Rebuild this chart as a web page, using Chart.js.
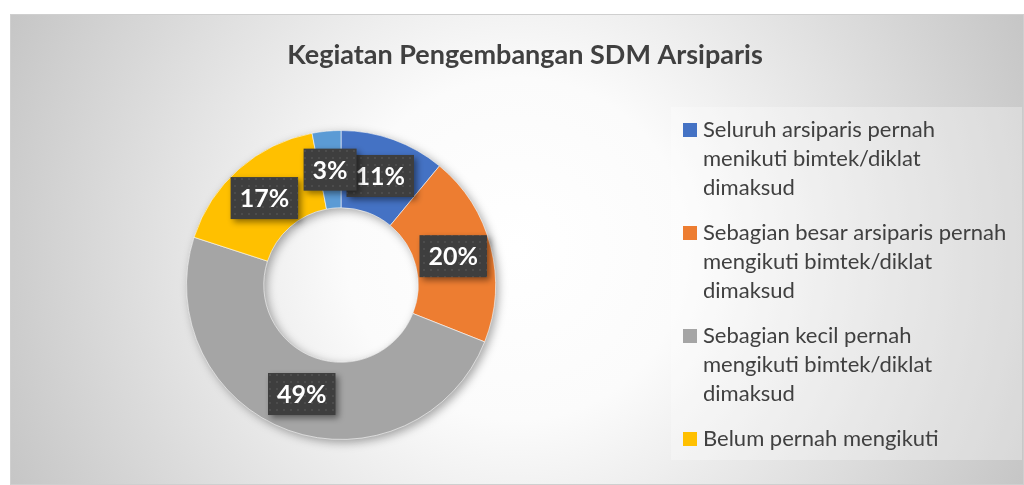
<!DOCTYPE html>
<html>
<head>
<meta charset="utf-8">
<script src="https://cdn.jsdelivr.net/npm/chart.js@4/dist/chart.umd.min.js"></script>
<style>
  html, body { margin: 0; padding: 0; background: #fff; }
</style>
</head>
<body>
<canvas id="chart" width="1024" height="485"></canvas>
<script>
const chartTitle = 'Kegiatan Pengembangan SDM Arsiparis';

// legend text is kept as the wrapped lines shown in the original
const categories = [
    ['Seluruh arsiparis pernah', 'menikuti bimtek/diklat', 'dimaksud'],
    ['Sebagian besar arsiparis pernah', 'mengikuti bimtek/diklat', 'dimaksud'],
    ['Sebagian kecil pernah', 'mengikuti bimtek/diklat', 'dimaksud'],
    ['Belum pernah mengikuti'],
    '', // fifth slice has no legend entry in the original
];
const shares = [11, 20, 49, 17, 3];
const sliceColors = ['#4472C4', '#ED7D31', '#A5A5A5', '#FFC000', '#5B9BD5'];

const FONT = 'Lato, "Open Sans", sans-serif';

function dotPattern(ctx) {
    const c = document.createElement('canvas');
    c.width = 7;
    c.height = 7;
    const p = c.getContext('2d');
    p.fillStyle = '#3e3e3e';
    p.fillRect(0, 0, 7, 7);
    p.fillStyle = '#4c4c4c';
    p.fillRect(3, 3, 2, 2);
    return ctx.createPattern(c, 'repeat');
}

const decor = {
    id: 'decor',
    beforeDraw(chart) {
        const { ctx, width, height } = chart;
        ctx.save();
        ctx.fillStyle = '#fff';
        ctx.fillRect(0, 0, width, height);

        // radial gradient background of the chart frame
        const g = ctx.createRadialGradient(517, 249, 0, 517, 249, 570);
        g.addColorStop(0, '#ffffff');
        g.addColorStop(0.3, '#fbfbfb');
        g.addColorStop(1, '#c4c4c4');
        ctx.fillStyle = g;
        ctx.fillRect(10, 14, width - 10, height - 14);
        ctx.strokeStyle = '#cfcfcf';
        ctx.lineWidth = 1;
        ctx.strokeRect(10.5, 14.5, width - 11, height - 15);

        // title
        ctx.fillStyle = '#404040';
        ctx.font = 'bold 27px ' + FONT;
        ctx.textAlign = 'center';
        ctx.textBaseline = 'middle';
        ctx.fillText(chartTitle, 525, 55);

        // legend
        ctx.fillStyle = 'rgba(255,255,255,0.3)';
        ctx.fillRect(671, 107, 351, 353);
        ctx.font = '22px ' + FONT;
        ctx.textAlign = 'left';
        let y = 130;
        categories.forEach((lines, i) => {
            if (!lines || !lines.length) return;
            ctx.fillStyle = sliceColors[i];
            ctx.fillRect(683, y - 7, 14, 14);
            ctx.fillStyle = '#404040';
            lines.forEach((line, j) => ctx.fillText(line, 703, y + j * 29));
            y += lines.length * 29 + 16;
        });
        ctx.restore();
    },
    beforeDatasetsDraw(chart) {
        // soft shadow under the whole ring
        const { ctx } = chart;
        const arc = chart.getDatasetMeta(0).data[0];
        const { x, y, innerRadius, outerRadius } = arc.getProps(['x', 'y', 'innerRadius', 'outerRadius'], true);
        ctx.save();
        ctx.shadowColor = 'rgba(0,0,0,0.35)';
        ctx.shadowBlur = 10;
        ctx.shadowOffsetX = 3;
        ctx.shadowOffsetY = 3;
        ctx.beginPath();
        ctx.arc(x, y, outerRadius, 0, Math.PI * 2);
        ctx.arc(x, y, innerRadius, 0, Math.PI * 2, true);
        ctx.fillStyle = '#999';
        ctx.fill();
        ctx.restore();
    },
    afterDatasetsDraw(chart) {
        const { ctx } = chart;
        const pattern = dotPattern(ctx);
        const values = chart.data.datasets[0].data;
        ctx.save();
        ctx.font = 'bold 25px ' + FONT;
        ctx.textAlign = 'center';
        ctx.textBaseline = 'middle';
        chart.getDatasetMeta(0).data.forEach((arc, i) => {
            const { x, y } = arc.getCenterPoint();
            const text = values[i] + '%';
            const w = ctx.measureText(text).width + 18;
            const h = 42;
            ctx.save();
            ctx.shadowColor = 'rgba(0,0,0,0.45)';
            ctx.shadowBlur = 6;
            ctx.shadowOffsetX = 3;
            ctx.shadowOffsetY = 3;
            ctx.fillStyle = pattern;
            ctx.fillRect(x - w / 2, y - h / 2, w, h);
            ctx.restore();
            ctx.fillStyle = '#ffffff';
            ctx.fillText(text, x, y + 1);
        });
        ctx.restore();
    },
};

new Chart(document.getElementById('chart'), {
    type: 'doughnut',
    data: {
        labels: categories,
        datasets: [{
            data: shares,
            backgroundColor: sliceColors,
            borderColor: 'rgba(255,255,255,0.6)',
            borderWidth: 1,
        }],
    },
    options: {
        responsive: false,
        animation: false,
        events: [],
        cutout: '50%',
        layout: {
            padding: { left: 186, right: 528, top: 130, bottom: 45 },
        },
        plugins: {
            legend: { display: false },
            tooltip: { enabled: false },
        },
    },
    plugins: [decor],
});
</script>
</body>
</html>
